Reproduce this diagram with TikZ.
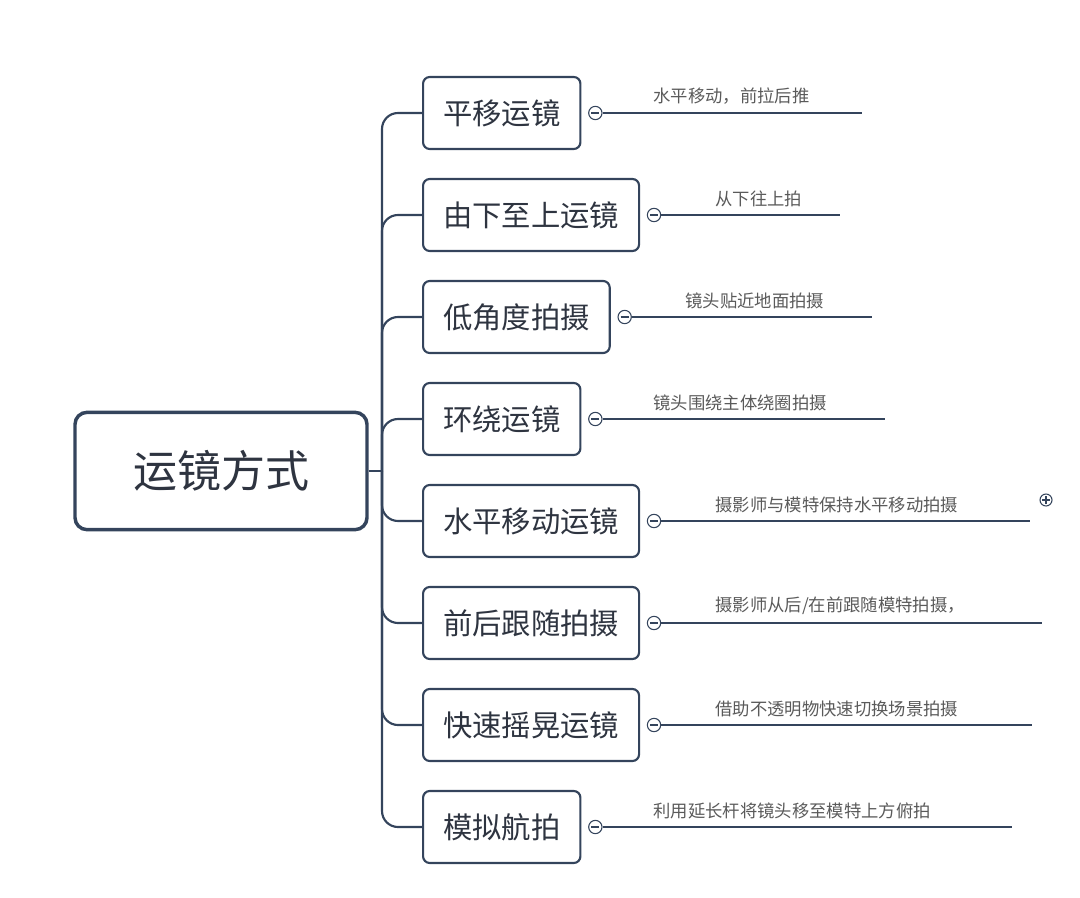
\documentclass[tikz,border=0pt]{standalone}
\usepackage{fontspec}
\setmainfont{Noto Sans CJK SC}
\usetikzlibrary{positioning}
\definecolor{frame}{HTML}{34445C}
\definecolor{ink}{HTML}{2E3440}
\definecolor{leafink}{HTML}{5A5A5A}
\begin{document}
\begin{tikzpicture}
        [x=0.75pt, y=-0.75pt,
        line width=1.6pt,
        rootbox/.style={draw=frame, line width=2.6pt, rounded corners=9pt, minimum width=219pt, minimum height=88pt, font=\fontsize{33}{36}\selectfont, text=ink},
        topicbox/.style={draw=frame, rounded corners=5pt, minimum height=54pt, anchor=west, inner xsep=15pt, font=\fontsize{22}{24}\selectfont, text=ink},
        fold/.style={draw=frame, fill=white, circle, line width=0.8pt, inner sep=0pt, minimum size=10pt},
        leaf/.style={font=\fontsize{13}{15}\selectfont, text=leafink, anchor=south west, inner sep=1pt}]

        \useasboundingbox (0,0) rectangle (1080,898);

        \node[rootbox] (root) at (221,471) {运镜方式};
        \coordinate (trunk) at (382,471);
        \draw[frame] (root.east) -- (trunk);

        \foreach \i/\y/\topic/\note/\tx/\ex in {
                1/113/平移运镜/{水平移动，前拉后推}/651/862,
                2/215/由下至上运镜/{从下往上拍}/713/840,
                3/317/低角度拍摄/{镜头贴近地面拍摄}/683/872,
                4/419/环绕运镜/{镜头围绕主体绕圈拍摄}/651/885,
                5/521/水平移动运镜/{摄影师与模特保持水平移动拍摄}/713/1030,
                6/623/前后跟随拍摄/{摄影师从后/在前跟随模特拍摄，}/713/1042,
                7/725/快速摇晃运镜/{借助不透明物快速切换场景拍摄}/713/1032,
                8/827/模拟航拍/{利用延长杆将镜头移至模特上方俯拍}/651/1012}
        {
                \node[topicbox] (t\i) at (422,\y) {\topic};
                \node[fold, right=5pt of t\i] (f\i) {};
                \draw[frame, line width=0.8pt] ([xshift=-3pt]f\i.center) -- ([xshift=3pt]f\i.center);
                \coordinate (e\i) at (\ex,\y);
                \draw[frame, line width=1.3pt] (f\i) -- (e\i);
                \node[leaf] (n\i) at (\tx,\y-6) {\note};
                \draw[frame, rounded corners=12pt] (trunk |- root.east) -- (trunk |- t\i.west) -- (t\i.west);
        }

        % collapsed child marker
        \node[fold, minimum size=9pt] (more) at (1046,500) {};
        \draw[frame, line width=0.8pt] ([xshift=-3pt]more.center) -- ([xshift=3pt]more.center)
                ([yshift=-3pt]more.center) -- ([yshift=3pt]more.center);
\end{tikzpicture}
\end{document}
